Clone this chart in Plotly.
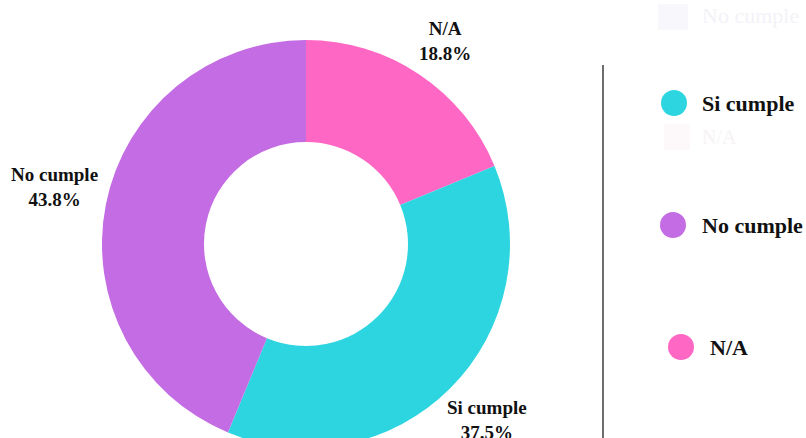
import math
import plotly.graph_objects as go

# Survey result shares
labels = ["N/A", "Si cumple", "No cumple"]
counts = [3, 6, 7]
colors = ["#ff67c4", "#2dd5e1", "#c46ce3"]

# Legend entries (drawn on the right)
legend_labels = ["Si cumple", "No cumple", "N/A"]
legend_colors = ["#2dd5e1", "#c46ce3", "#ff67c4"]

W, H = 806, 458
FONT = "Liberation Serif, Times New Roman, serif"

# Pie geometry in pixels (from top-left)
PCX, PCY, PR = 306, 244, 204

fig = go.Figure()
fig.add_trace(go.Pie(
    labels=labels,
    values=counts,
    marker=dict(colors=colors, line=dict(width=0)),
    hole=0.5,
    sort=False,
    direction="clockwise",
    rotation=0,
    textinfo="none",
    showlegend=False,
    domain=dict(x=[(PCX - PR) / W, (PCX + PR) / W],
                y=[1 - (PCY + PR) / H, 1 - (PCY - PR) / H]),
))

shapes = []
annotations = []

# Outside labels at each slice's mid angle, with small per-label nudges
nudge = [(0, 5), (4, -1), (-6, -8)]
total = sum(counts)
cum = 0
for (lab, v), (dx, dy) in zip(zip(labels, counts), nudge):
    mid = (cum + v / 2) / total * 2 * math.pi
    cum += v
    lr = PR + 46
    x = PCX + lr * math.sin(mid) + dx
    y = PCY - lr * math.cos(mid) + dy
    annotations.append(dict(xref="paper", yref="paper", x=x / W, y=1 - y / H,
                            xanchor="center", yanchor="middle", showarrow=False,
                            text=f"<b>{lab}<br>{v / total * 100:.1f}%</b>",
                            font=dict(family=FONT, size=19, color="#111111")))

# Separator line
shapes.append(dict(type="line", xref="paper", yref="paper",
                   x0=603 / W, x1=603 / W, y0=0, y1=1 - 65 / H,
                   line=dict(color="#6e6e6e", width=2)))

# Legend: circle marker + bold label
cx = [674, 673, 681]
tx = [700, 700, 708]
cy0, gap, r = 103, 122, 13
for i, (lab, col) in enumerate(zip(legend_labels, legend_colors)):
    y = cy0 + i * gap
    shapes.append(dict(type="circle", xref="paper", yref="paper",
                       x0=(cx[i] - r) / W, x1=(cx[i] + r) / W,
                       y0=1 - (y + r) / H, y1=1 - (y - r) / H,
                       fillcolor=col, line=dict(width=0)))
    annotations.append(dict(xref="paper", yref="paper", x=tx[i] / W, y=1 - y / H,
                            xanchor="left", yanchor="middle", showarrow=False,
                            text=f"<b>{lab}</b>",
                            font=dict(family=FONT, size=22, color="#111111")))

# Faded legend entries left over from a previous state
shapes.append(dict(type="rect", xref="paper", yref="paper",
                   x0=658 / W, x1=688 / W, y0=1 - 30 / H, y1=1 - 4 / H,
                   fillcolor="#f8f8fc", line=dict(width=0)))
annotations.append(dict(xref="paper", yref="paper", x=700 / W, y=1 - 16 / H,
                        xanchor="left", yanchor="middle", showarrow=False,
                        text="No cumple",
                        font=dict(family=FONT, size=22, color="#f3f3f7")))
shapes.append(dict(type="rect", xref="paper", yref="paper",
                   x0=664 / W, x1=690 / W, y0=1 - 150 / H, y1=1 - 124 / H,
                   fillcolor="#fdf9fb", line=dict(width=0)))
annotations.append(dict(xref="paper", yref="paper", x=700 / W, y=1 - 137 / H,
                        xanchor="left", yanchor="middle", showarrow=False,
                        text="N/A",
                        font=dict(family=FONT, size=20, color="#f7f3f5")))

fig.update_layout(
    width=W, height=H,
    margin=dict(l=0, r=0, t=0, b=0),
    paper_bgcolor="white",
    plot_bgcolor="white",
    shapes=shapes,
    annotations=annotations,
)

fig.write_html("out.html", post_script="document.body.style.margin='0';document.body.style.overflow='hidden';document.documentElement.style.overflow='hidden';")
